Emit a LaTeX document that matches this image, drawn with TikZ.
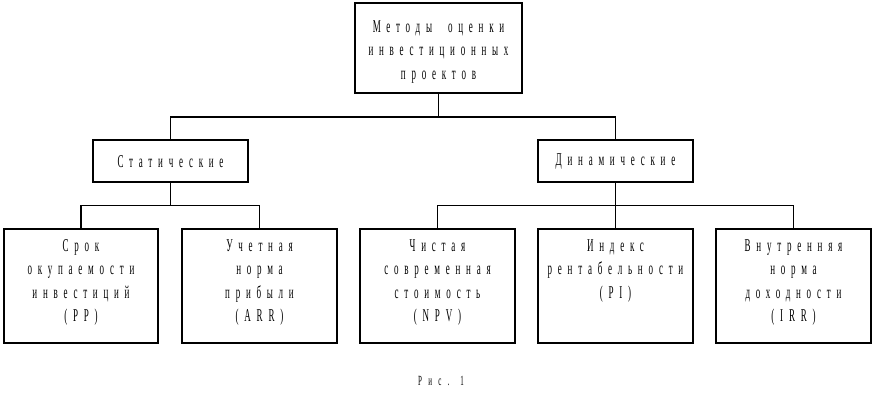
\documentclass[tikz,border=0pt]{standalone}
\usepackage{fontspec}
\setmainfont{Liberation Serif}[FakeStretch=0.5,LetterSpace=32,WordSpace=2]
\newfontfamily\capfont{Liberation Serif}[FakeStretch=0.5,LetterSpace=45]
\begin{document}
\begin{tikzpicture}[x=1pt,y=-1pt,
  box/.style={draw,line width=1.6pt,inner sep=0pt},
  txt/.style={align=center,inner sep=0pt,font=\fontsize{18}{23.5}\selectfont},
  conn/.style={line width=1.6pt}]
\useasboundingbox (0,0) rectangle (874,402);
% boxes
\node[box,minimum width=167pt,minimum height=90pt] (top) at (438.5,48) {};
\node[box,minimum width=155pt,minimum height=42pt] (stat) at (170.5,161) {};
\node[box,minimum width=155pt,minimum height=42pt] (dyn) at (615.5,161) {};
\node[box,minimum width=154pt,minimum height=114pt] (b1) at (81,286) {};
\node[box,minimum width=155pt,minimum height=114pt] (b2) at (259.5,286) {};
\node[box,minimum width=155pt,minimum height=114pt] (b3) at (437.5,286) {};
\node[box,minimum width=155pt,minimum height=114pt] (b4) at (615.5,286) {};
\node[box,minimum width=155pt,minimum height=114pt] (b5) at (793.5,286) {};
% texts
\node[txt] (ttop) at ([yshift=-4pt]top.center) {Методы оценки\\инвестиционных\\проектов};
\node[txt] (tstat) at ([yshift=-1pt]stat.center) {Статические};
\node[txt] (tdyn) at ([yshift=-1pt]dyn.center) {Динамические};
\node[txt,anchor=north] (t1) at ([yshift=-11pt]b1.north) {Срок\\окупаемости\\инвестиций\\(PP)};
\node[txt,anchor=north] (t2) at ([yshift=-11pt]b2.north) {Учетная\\норма\\прибыли\\(ARR)};
\node[txt,anchor=north] (t3) at ([yshift=-11pt]b3.north) {Чистая\\современная\\стоимость\\(NPV)};
\node[txt,anchor=north] (t4) at ([yshift=-11pt]b4.north) {Индекс\\рентабельности\\(PI)};
\node[txt,anchor=north] (t5) at ([yshift=-11pt]b5.north) {Внутренняя\\норма\\доходности\\(IRR)};
% connectors
\coordinate (bus0) at (438.5,117);
\coordinate (bus1) at (170.5,205.5);
\coordinate (bus2) at (615.5,205.5);
\draw[conn] (top.south) -- (bus0);
\draw[conn] (stat.north) |- (bus0) -| (dyn.north);
\draw[conn] (stat.south) -- (bus1);
\draw[conn] (b1.north) |- (bus1) -| (b2.north);
\draw[conn] (dyn.south) -- (bus2);
\draw[conn] (b3.north) |- (bus2) -| (b5.north);
\draw[conn] (bus2) -- (b4.north);
% caption
\node[inner sep=0pt,font=\capfont\fontsize{14}{16}\selectfont] (cap) at (441,381) {Рис. 1};
\end{tikzpicture}
\end{document}
